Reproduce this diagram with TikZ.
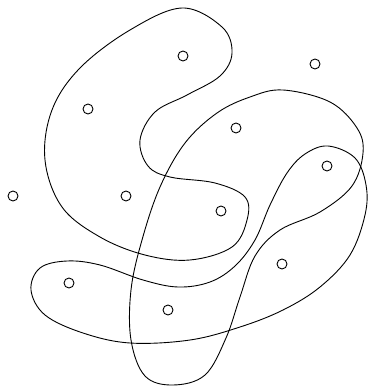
\documentclass[tikz,border=0pt]{standalone}
\begin{document}
\begin{tikzpicture}[x=1pt,y=-1pt,
  vtx/.style={circle,draw,line width=0.9pt,minimum size=10pt,inner sep=0pt},
  edgecurve/.style={draw,line width=0.9pt}]
\useasboundingbox (0,0) rectangle (369,387);
% hyperedges
\draw[edgecurve] plot[smooth cycle, tension=0.6] coordinates {
 (182,8) (222,27) (232,53) (220,76) (187,95) (155,112) (140,140) (148,166)
 (170,177) (215,183) (245,197) (247,220) (232,247) (190,260) (145,255)
 (100,237) (62,207) (45,160) (52,110) (80,68) (130,30)};
\draw[edgecurve] plot[smooth cycle, tension=0.6] coordinates {
 (283,90) (330,102) (357,128) (363,153) (352,186) (320,212) (280,230)
 (255,256) (240,297) (226,338) (205,375) (173,385) (145,376) (131,340)
 (131,290) (142,240) (160,187) (185,143) (217,113) (250,97)};
\draw[edgecurve] plot[smooth cycle, tension=0.6] coordinates {
 (328,146) (355,158) (366,185) (365,215) (350,255) (320,287) (283,310)
 (240,327) (190,340) (130,343) (83,333) (45,315) (31,290) (40,268)
 (67,261) (100,265) (143,280) (178,287) (210,282) (235,266) (255,240)
 (270,205) (287,173) (305,154)};
% vertices
\node[vtx] (v1) at (183,56) {};
\node[vtx] (v2) at (315,64) {};
\node[vtx] (v3) at (88,109) {};
\node[vtx] (v4) at (236,128) {};
\node[vtx] (v5) at (327,166) {};
\node[vtx] (v6) at (13,196) {};
\node[vtx] (v7) at (126,196) {};
\node[vtx] (v8) at (221,211) {};
\node[vtx] (v9) at (282,264) {};
\node[vtx] (v10) at (69,283) {};
\node[vtx] (v11) at (168,310) {};
\end{tikzpicture}
\end{document}
